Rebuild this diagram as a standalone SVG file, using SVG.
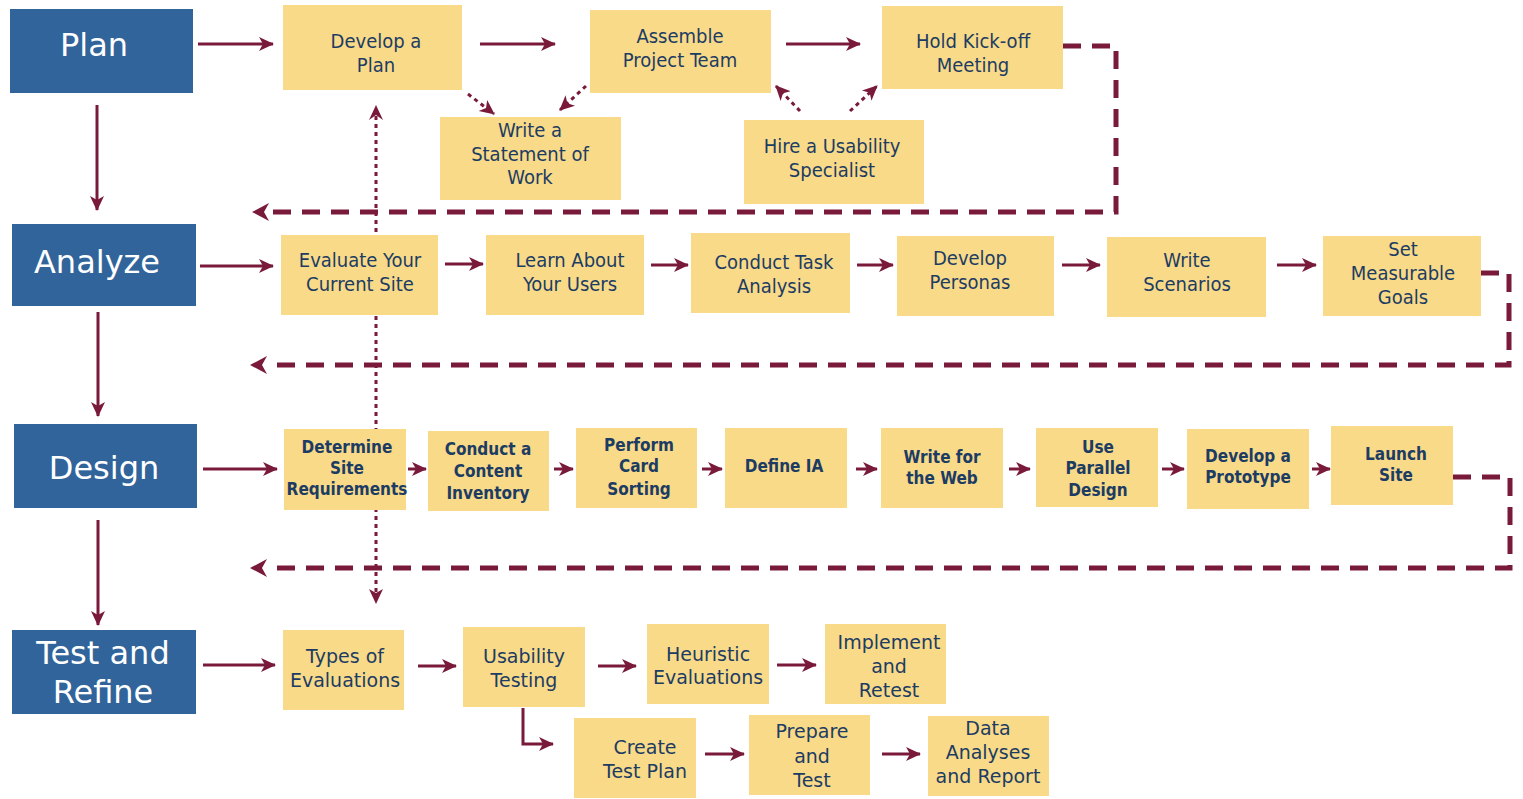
<svg xmlns="http://www.w3.org/2000/svg" width="1523" height="799" viewBox="0 0 1523 799">
<defs>
<style>
.phase rect{fill:#31649A;}
.phase text{fill:#fff;font-family:"DejaVu Sans",sans-serif;font-size:32px;text-anchor:middle;}
.step rect{fill:#F8DA88;}
.step text{fill:#1D3C63;font-family:"DejaVu Sans Condensed","DejaVu Sans",sans-serif;font-size:20px;text-anchor:middle;}
.d text{font-weight:bold;font-size:17px;}
.t text{font-family:"DejaVu Sans",sans-serif;font-size:19px;}
.solid{stroke:#7A1A3A;stroke-width:3;fill:none;marker-end:url(#ah);}
.dot{stroke:#7A1A3A;stroke-width:3;fill:none;stroke-dasharray:4 4;}
.dash{stroke:#7A1A3A;stroke-width:5;fill:none;stroke-dasharray:18 11;marker-end:url(#bh);}
</style>
<marker id="ah" markerUnits="userSpaceOnUse" markerWidth="16" markerHeight="16" refX="14" refY="8" orient="auto">
<path d="M0,1 L15,8 L0,15 L4,8 z" fill="#7A1A3A"/>
</marker>
<marker id="bh" markerUnits="userSpaceOnUse" markerWidth="20" markerHeight="20" refX="2" refY="10" orient="auto">
<path d="M0,10 L17,1 L12,10 L17,19 z" fill="#7A1A3A" transform="rotate(180 10 10)"/>
</marker>
</defs>
<rect width="1523" height="799" fill="#fff"/>
<g id="connectors">
<line class="dot" x1="376" y1="116" x2="376" y2="603" marker-end="url(#ah)"/>
<path d="M369,120 L376,105 L383,120 L376,115 z" fill="#7A1A3A"/>
<line class="solid" x1="198" y1="44" x2="273" y2="44"/>
<line class="solid" x1="480" y1="44" x2="555" y2="44"/>
<line class="solid" x1="786" y1="44" x2="860" y2="44"/>
<line class="dot" x1="468" y1="94" x2="494" y2="114" marker-end="url(#ah)"/>
<line class="dot" x1="586" y1="86" x2="560" y2="110" marker-end="url(#ah)"/>
<line class="dot" x1="800" y1="111" x2="776" y2="86" marker-end="url(#ah)"/>
<line class="dot" x1="850" y1="111" x2="877" y2="86" marker-end="url(#ah)"/>
<path class="dash" d="M1063,46 H1116 V212 H270"/>
<line class="solid" x1="97" y1="105" x2="97" y2="210"/>
<line class="solid" x1="200" y1="266" x2="273" y2="266"/>
<line class="solid" x1="445" y1="264" x2="483" y2="264"/>
<line class="solid" x1="651" y1="265" x2="688" y2="265"/>
<line class="solid" x1="857" y1="265" x2="893" y2="265"/>
<line class="solid" x1="1062" y1="265" x2="1100" y2="265"/>
<line class="solid" x1="1277" y1="265" x2="1316" y2="265"/>
<path class="dash" d="M1481,273 H1509 V365 H268"/>
<line class="solid" x1="98" y1="312" x2="98" y2="416"/>
<line class="solid" x1="203" y1="469" x2="277" y2="469"/>
<line class="solid" x1="408" y1="469" x2="426" y2="469"/>
<line class="solid" x1="554" y1="469" x2="573" y2="469"/>
<line class="solid" x1="702" y1="469" x2="722" y2="469"/>
<line class="solid" x1="856" y1="469" x2="877" y2="469"/>
<line class="solid" x1="1009" y1="469" x2="1030" y2="469"/>
<line class="solid" x1="1162" y1="469" x2="1184" y2="469"/>
<line class="solid" x1="1312" y1="469" x2="1330" y2="469"/>
<path class="dash" d="M1453,477 H1510 V568 H268"/>
<line class="solid" x1="98" y1="520" x2="98" y2="625"/>
<line class="solid" x1="203" y1="665" x2="275" y2="665"/>
<line class="solid" x1="418" y1="666" x2="456" y2="666"/>
<line class="solid" x1="598" y1="666" x2="636" y2="666"/>
<line class="solid" x1="777" y1="665" x2="816" y2="665"/>
<path class="solid" d="M523,708 V744 H553"/>
<line class="solid" x1="705" y1="754" x2="744" y2="754"/>
<line class="solid" x1="882" y1="754" x2="920" y2="754"/>
</g>
<g id="plan" class="phase"><rect x="10" y="9" width="183" height="84"/><text x="94" y="56">Plan</text></g>
<g id="analyze" class="phase"><rect x="12" y="224" width="184" height="82"/><text x="97" y="273">Analyze</text></g>
<g id="design" class="phase"><rect x="14" y="424" width="183" height="84"/><text x="104" y="479">Design</text></g>
<g id="test" class="phase"><rect x="12" y="630" width="184" height="84"/><text x="103" y="664">Test and</text><text x="103" y="703">Refine</text></g>
<g id="develop-plan" class="step"><rect x="283" y="5" width="179" height="85"/><text x="376" y="48">Develop a</text><text x="376" y="72">Plan</text></g>
<g id="assemble" class="step"><rect x="590" y="10" width="181" height="83"/><text x="680" y="43">Assemble</text><text x="680" y="67">Project Team</text></g>
<g id="kickoff" class="step"><rect x="882" y="6" width="181" height="83"/><text x="973" y="48">Hold Kick-off</text><text x="973" y="72">Meeting</text></g>
<g id="sow" class="step"><rect x="440" y="117" width="181" height="83"/><text x="530" y="137">Write a</text><text x="530" y="161">Statement of</text><text x="530" y="184">Work</text></g>
<g id="hire" class="step"><rect x="744" y="120" width="180" height="84"/><text x="832" y="153">Hire a Usability</text><text x="832" y="177">Specialist</text></g>
<g id="evaluate" class="step"><rect x="281" y="235" width="157" height="80"/><text x="360" y="267">Evaluate Your</text><text x="360" y="291">Current Site</text></g>
<g id="learn" class="step"><rect x="486" y="235" width="158" height="80"/><text x="570" y="267">Learn About</text><text x="570" y="291">Your Users</text></g>
<g id="task" class="step"><rect x="691" y="233" width="159" height="80"/><text x="774" y="269">Conduct Task</text><text x="774" y="293">Analysis</text></g>
<g id="personas" class="step"><rect x="897" y="236" width="157" height="80"/><text x="970" y="265">Develop</text><text x="970" y="289">Personas</text></g>
<g id="scenarios" class="step"><rect x="1107" y="237" width="159" height="80"/><text x="1187" y="267">Write</text><text x="1187" y="291">Scenarios</text></g>
<g id="goals" class="step"><rect x="1323" y="236" width="158" height="80"/><text x="1403" y="256">Set</text><text x="1403" y="280">Measurable</text><text x="1403" y="304">Goals</text></g>
<g id="requirements" class="step d"><rect x="284" y="429" width="122" height="81"/><text x="347" y="453">Determine</text><text x="347" y="474">Site</text><text x="347" y="495">Requirements</text></g>
<g id="inventory" class="step d"><rect x="428" y="431" width="121" height="80"/><text x="488" y="455">Conduct a</text><text x="488" y="477">Content</text><text x="488" y="499">Inventory</text></g>
<g id="card" class="step d"><rect x="576" y="428" width="121" height="80"/><text x="639" y="451">Perform</text><text x="639" y="472">Card</text><text x="639" y="495">Sorting</text></g>
<g id="ia" class="step d"><rect x="725" y="428" width="122" height="80"/><text x="784" y="472">Define IA</text></g>
<g id="web" class="step d"><rect x="881" y="428" width="122" height="80"/><text x="942" y="463">Write for</text><text x="942" y="484">the Web</text></g>
<g id="parallel" class="step d"><rect x="1036" y="428" width="122" height="79"/><text x="1098" y="453">Use</text><text x="1098" y="474">Parallel</text><text x="1098" y="496">Design</text></g>
<g id="prototype" class="step d"><rect x="1187" y="429" width="122" height="80"/><text x="1248" y="462">Develop a</text><text x="1248" y="483">Prototype</text></g>
<g id="launch" class="step d"><rect x="1331" y="426" width="122" height="79"/><text x="1396" y="460">Launch</text><text x="1396" y="481">Site</text></g>
<g id="types" class="step t"><rect x="283" y="630" width="121" height="80"/><text x="345" y="663">Types of</text><text x="345" y="687">Evaluations</text></g>
<g id="usability" class="step t"><rect x="463" y="627" width="122" height="80"/><text x="524" y="663">Usability</text><text x="524" y="687">Testing</text></g>
<g id="heuristic" class="step t"><rect x="647" y="624" width="122" height="80"/><text x="708" y="661">Heuristic</text><text x="708" y="684">Evaluations</text></g>
<g id="implement" class="step t"><rect x="825" y="624" width="121" height="80"/><text x="889" y="649">Implement</text><text x="889" y="673">and</text><text x="889" y="697">Retest</text></g>
<g id="testplan" class="step t"><rect x="574" y="718" width="122" height="80"/><text x="645" y="754">Create</text><text x="645" y="778">Test Plan</text></g>
<g id="prepare" class="step t"><rect x="749" y="715" width="121" height="80"/><text x="812" y="738">Prepare</text><text x="812" y="763">and</text><text x="812" y="787">Test</text></g>
<g id="data" class="step t"><rect x="928" y="716" width="121" height="80"/><text x="988" y="735">Data</text><text x="988" y="759">Analyses</text><text x="988" y="783">and Report</text></g>
</svg>
